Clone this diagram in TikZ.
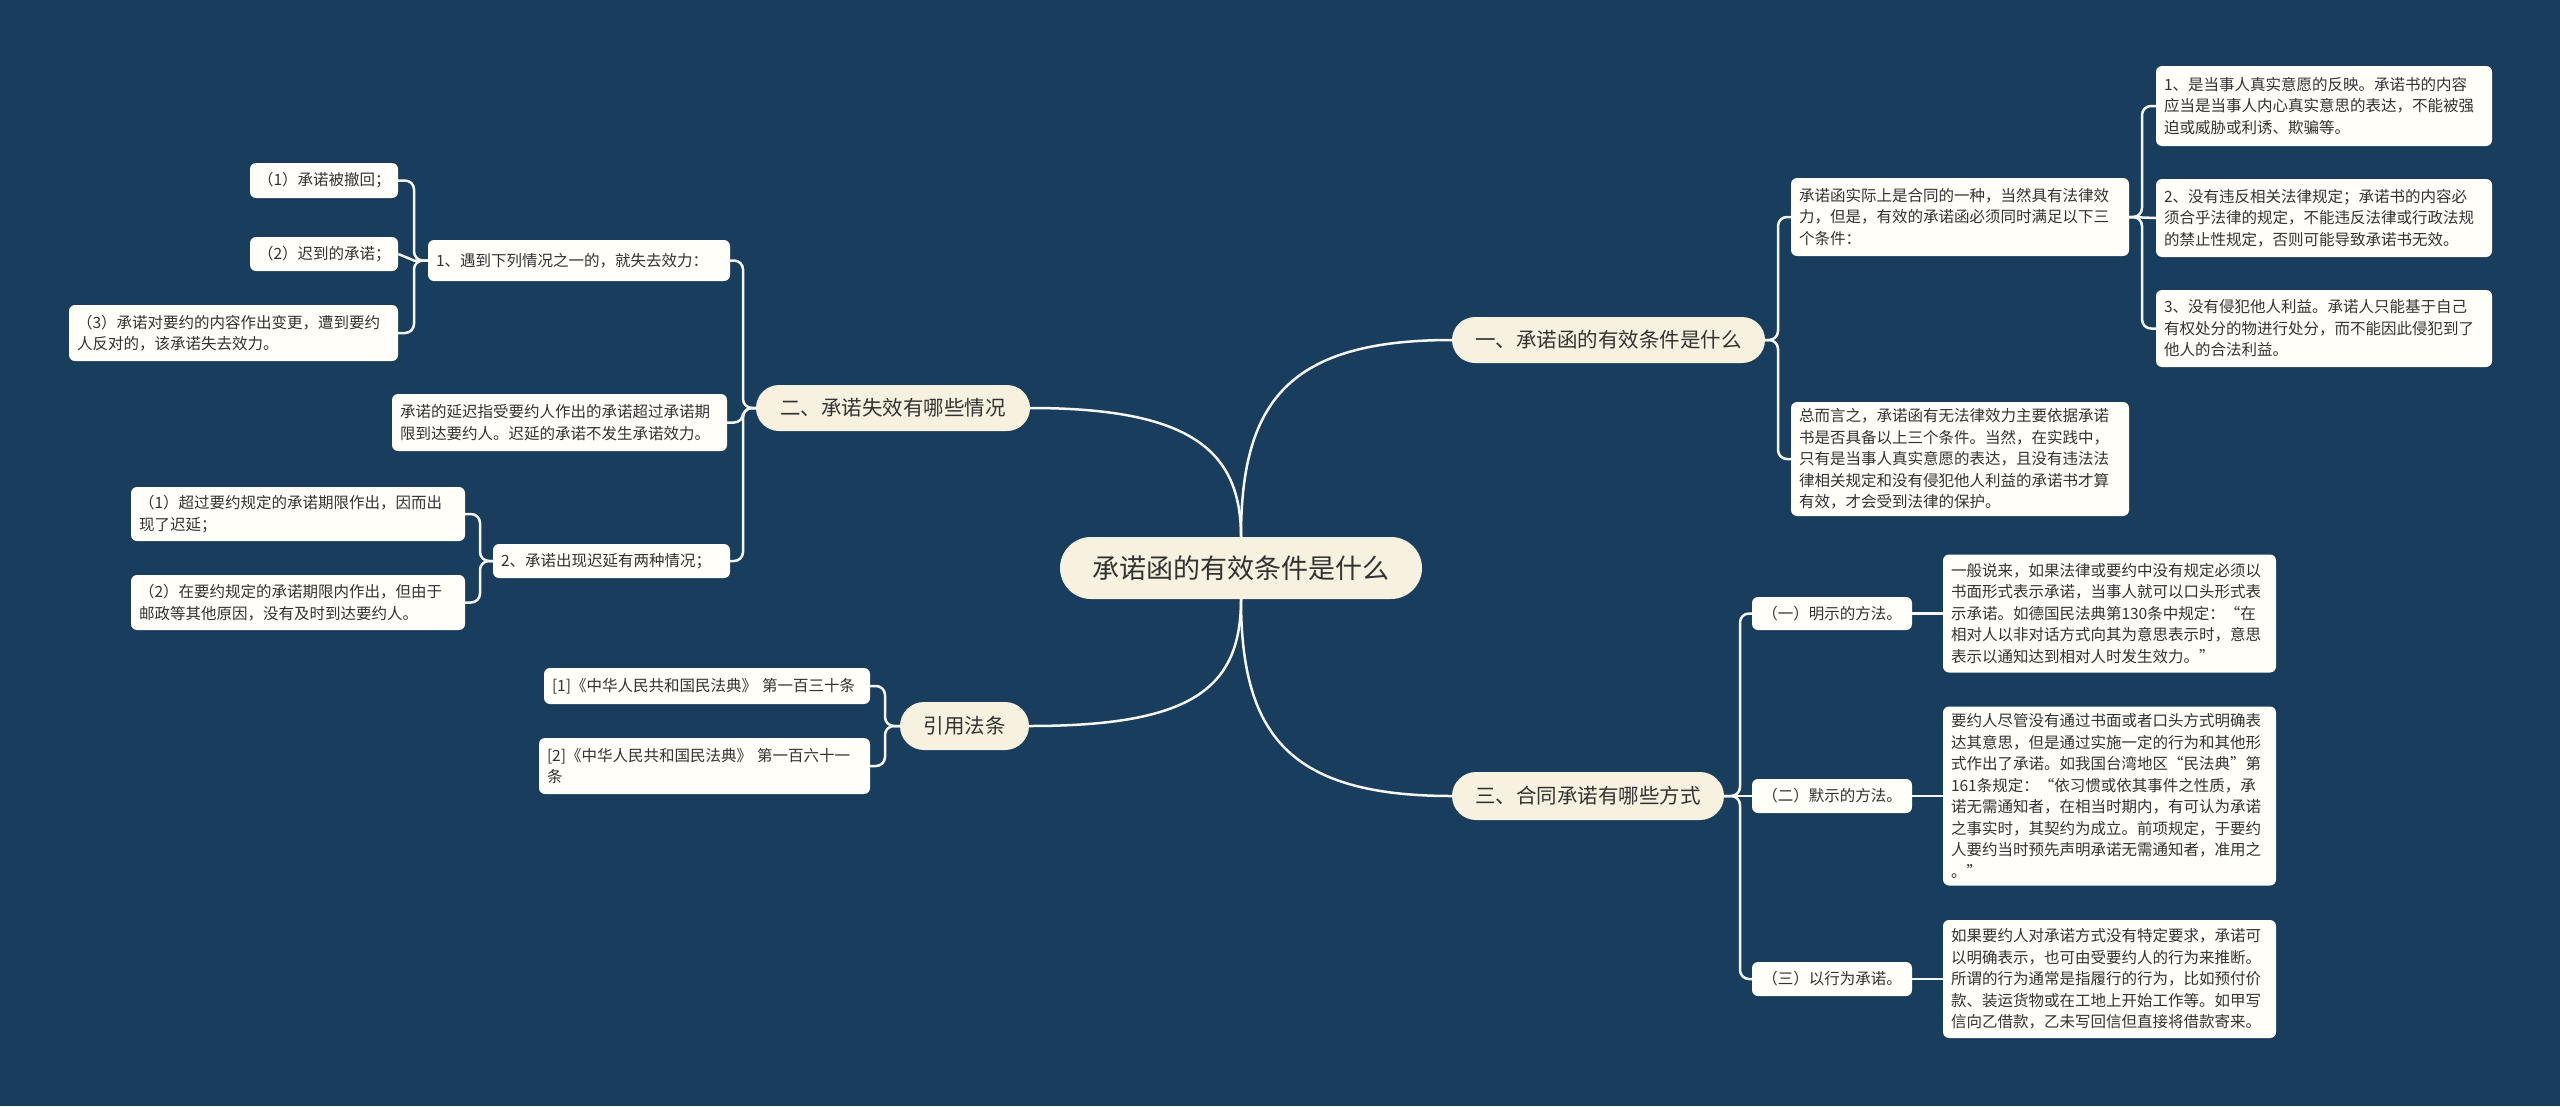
\documentclass[tikz,border=0pt]{standalone}
\usepackage{fontspec}
\newfontfamily\cjk{Noto Sans CJK SC}
\definecolor{bg}{RGB}{24,61,93}
\definecolor{cream}{RGB}{247,242,224}
\definecolor{leaffill}{RGB}{255,254,249}
\definecolor{txt}{RGB}{51,51,51}
\definecolor{linec}{RGB}{246,246,242}
\begin{document}
\begin{tikzpicture}[x=1pt,y=-1pt,
  leaf/.style={fill=leaffill, rounded corners=6pt, text=txt, font=\cjk\fontsize{15.5}{21.5}\selectfont, inner xsep=8pt, inner ysep=0pt, align=left},
  sleaf/.style={leaf, align=center},
  topic/.style={fill=cream, text=txt, font=\cjk\fontsize{20.5}{24}\selectfont, inner xsep=0pt, inner ysep=0pt, align=center},
  rootnode/.style={fill=cream, text=txt, font=\cjk\fontsize{27}{30}\selectfont, inner xsep=0pt, inner ysep=0pt, align=center, rounded corners=31pt},
  conn/.style={draw=linec, line width=2.5pt},
  bracket/.style={conn, rounded corners=9pt}
]
\fill[bg] (0,0) rectangle (2560,1106);
\useasboundingbox (0,0) rectangle (2560,1106);

% root
\node[rootnode, minimum width=362pt, minimum height=62pt] (root) at (1241,568) {承诺函的有效条件是什么};

% level 1
\node[topic, rounded corners=23pt, minimum width=313pt, minimum height=46pt] (b1) at (1608.5,340) {一、承诺函的有效条件是什么};
\node[topic, rounded corners=23pt, minimum width=274pt, minimum height=46pt] (b2) at (893,408) {二、承诺失效有哪些情况};
\node[topic, rounded corners=24pt, minimum width=129pt, minimum height=48pt] (b4) at (964.5,726) {引用法条};
\node[topic, rounded corners=24pt, minimum width=272pt, minimum height=48pt] (b3) at (1588,796) {三、合同承诺有哪些方式};

% branch 1
\node[leaf, text width=322pt, minimum height=78pt] (A) at (1960,217) {承诺函实际上是合同的一种，当然具有法律效\\
力，但是，有效的承诺函必须同时满足以下三\\
个条件：};
\node[leaf, text width=322pt, minimum height=114pt] (B) at (1960,459) {总而言之，承诺函有无法律效力主要依据承诺\\
书是否具备以上三个条件。当然，在实践中，\\
只有是当事人真实意愿的表达，且没有违法法\\
律相关规定和没有侵犯他人利益的承诺书才算\\
有效，才会受到法律的保护。};
\node[leaf, text width=320pt, minimum height=80pt] (R1) at (2324,106) {1、是当事人真实意愿的反映。承诺书的内容\\
应当是当事人内心真实意思的表达，不能被强\\
迫或威胁或利诱、欺骗等。};
\node[leaf, text width=320pt, minimum height=78pt] (R2) at (2324,218) {2、没有违反相关法律规定；承诺书的内容必\\
须合乎法律的规定，不能违反法律或行政法规\\
的禁止性规定，否则可能导致承诺书无效。};
\node[leaf, text width=320pt, minimum height=77pt] (R3) at (2324,328.5) {3、没有侵犯他人利益。承诺人只能基于自己\\
有权处分的物进行处分，而不能因此侵犯到了\\
他人的合法利益。};

% branch 3
\node[sleaf, text width=144pt, minimum height=33pt] (m1) at (1832,613.5) {（一）明示的方法。};
\node[sleaf, text width=144pt, minimum height=34pt] (m2) at (1832,796) {（二）默示的方法。};
\node[sleaf, text width=144pt, minimum height=34pt] (m3) at (1832,979) {（三）以行为承诺。};
\node[leaf, text width=317pt, minimum height=118pt] (C) at (2109.5,613.5) {一般说来，如果法律或要约中没有规定必须以\\
书面形式表示承诺，当事人就可以口头形式表\\
示承诺。如德国民法典第130条中规定：“在\\
相对人以非对话方式向其为意思表示时，意思\\
表示以通知达到相对人时发生效力。”};
\node[leaf, text width=317pt, minimum height=179pt] (D) at (2109.5,796) {要约人尽管没有通过书面或者口头方式明确表\\
达其意思，但是通过实施一定的行为和其他形\\
式作出了承诺。如我国台湾地区“民法典”第\\
161条规定：“依习惯或依其事件之性质，承\\
诺无需通知者，在相当时期内，有可认为承诺\\
之事实时，其契约为成立。前项规定，于要约\\
人要约当时预先声明承诺无需通知者，准用之\\
。”};
\node[leaf, text width=317pt, minimum height=118pt] (E) at (2109.5,979) {如果要约人对承诺方式没有特定要求，承诺可\\
以明确表示，也可由受要约人的行为来推断。\\
所谓的行为通常是指履行的行为，比如预付价\\
款、装运货物或在工地上开始工作等。如甲写\\
信向乙借款，乙未写回信但直接将借款寄来。};

% branch 2
\node[leaf, text width=286pt, minimum height=41pt] (c1) at (579,260.5) {1、遇到下列情况之一的，就失去效力：};
\node[leaf, text width=319pt, minimum height=57pt] (c2) at (559.5,422.5) {承诺的延迟指受要约人作出的承诺超过承诺期\\
限到达要约人。迟延的承诺不发生承诺效力。};
\node[leaf, text width=221pt, minimum height=34pt] (c3) at (611.5,561) {2、承诺出现迟延有两种情况；};
\node[sleaf, text width=132pt, minimum height=35pt] (L1) at (324,180.5) {（1）承诺被撤回；};
\node[sleaf, text width=132pt, minimum height=34pt] (L2) at (324,254) {（2）迟到的承诺；};
\node[leaf, text width=313pt, minimum height=56pt] (L3) at (233.5,333) {（3）承诺对要约的内容作出变更，遭到要约\\
人反对的，该承诺失去效力。};
\node[leaf, text width=318pt, minimum height=54pt] (d1) at (298,514) {（1）超过要约规定的承诺期限作出，因而出\\
现了迟延；};
\node[leaf, text width=318pt, minimum height=55pt] (d2) at (298,602.5) {（2）在要约规定的承诺期限内作出，但由于\\
邮政等其他原因，没有及时到达要约人。};

% citations
\node[leaf, text width=310pt, minimum height=36pt] (cit1) at (707,686) {[1]《中华人民共和国民法典》 第一百三十条};
\node[leaf, text width=315pt, minimum height=56pt] (cit2) at (704.5,766) {[2]《中华人民共和国民法典》 第一百六十一\\
条};

% root connectors
\draw[conn] (root.north) .. controls (1241,400) and (1290,340) .. (b1.west);
\draw[conn] (root.north) .. controls (1241,450) and (1190,408) .. (b2.east);
\draw[conn] (root.south) .. controls (1241,690) and (1190,726) .. (b4.east);
\draw[conn] (root.south) .. controls (1241,736) and (1290,796) .. (b3.west);

% branch 1 brackets
\draw[bracket] (b1.east) -- (1778,340) |- (A.west);
\draw[bracket] (b1.east) -- (1778,340) |- (B.west);
\draw[bracket] (A.east) -- (2142,217) |- (R1.west);
\draw[conn] (A.east) -- (R2.west);
\draw[bracket] (A.east) -- (2142,217) |- (R3.west);

% branch 3 brackets
\draw[bracket] (b3.east) -- (1740,796) |- (m1.west);
\draw[conn] (b3.east) -- (m2.west);
\draw[bracket] (b3.east) -- (1740,796) |- (m3.west);
\draw[conn] (m1.east) -- (C.west);
\draw[conn] (m2.east) -- (D.west);
\draw[conn] (m3.east) -- (E.west);

% branch 2 brackets
\draw[bracket] (b2.west) -- (743,408) |- (c1.east);
\draw[bracket] (b2.west) -- (743,408) |- (c2.east);
\draw[bracket] (b2.west) -- (743,408) |- (c3.east);
\draw[bracket] (c1.west) -- (414,260.5) |- (L1.east);
\draw[conn] (c1.west) -- (414,260.5) -- (L2.east);
\draw[bracket] (c1.west) -- (414,260.5) |- (L3.east);
\draw[bracket] (c3.west) -- (480,561) |- (d1.east);
\draw[bracket] (c3.west) -- (480,561) |- (d2.east);

% citation brackets
\draw[bracket] (b4.west) -- (885,726) |- (cit1.east);
\draw[bracket] (b4.west) -- (885,726) |- (cit2.east);
\end{tikzpicture}
\end{document}
